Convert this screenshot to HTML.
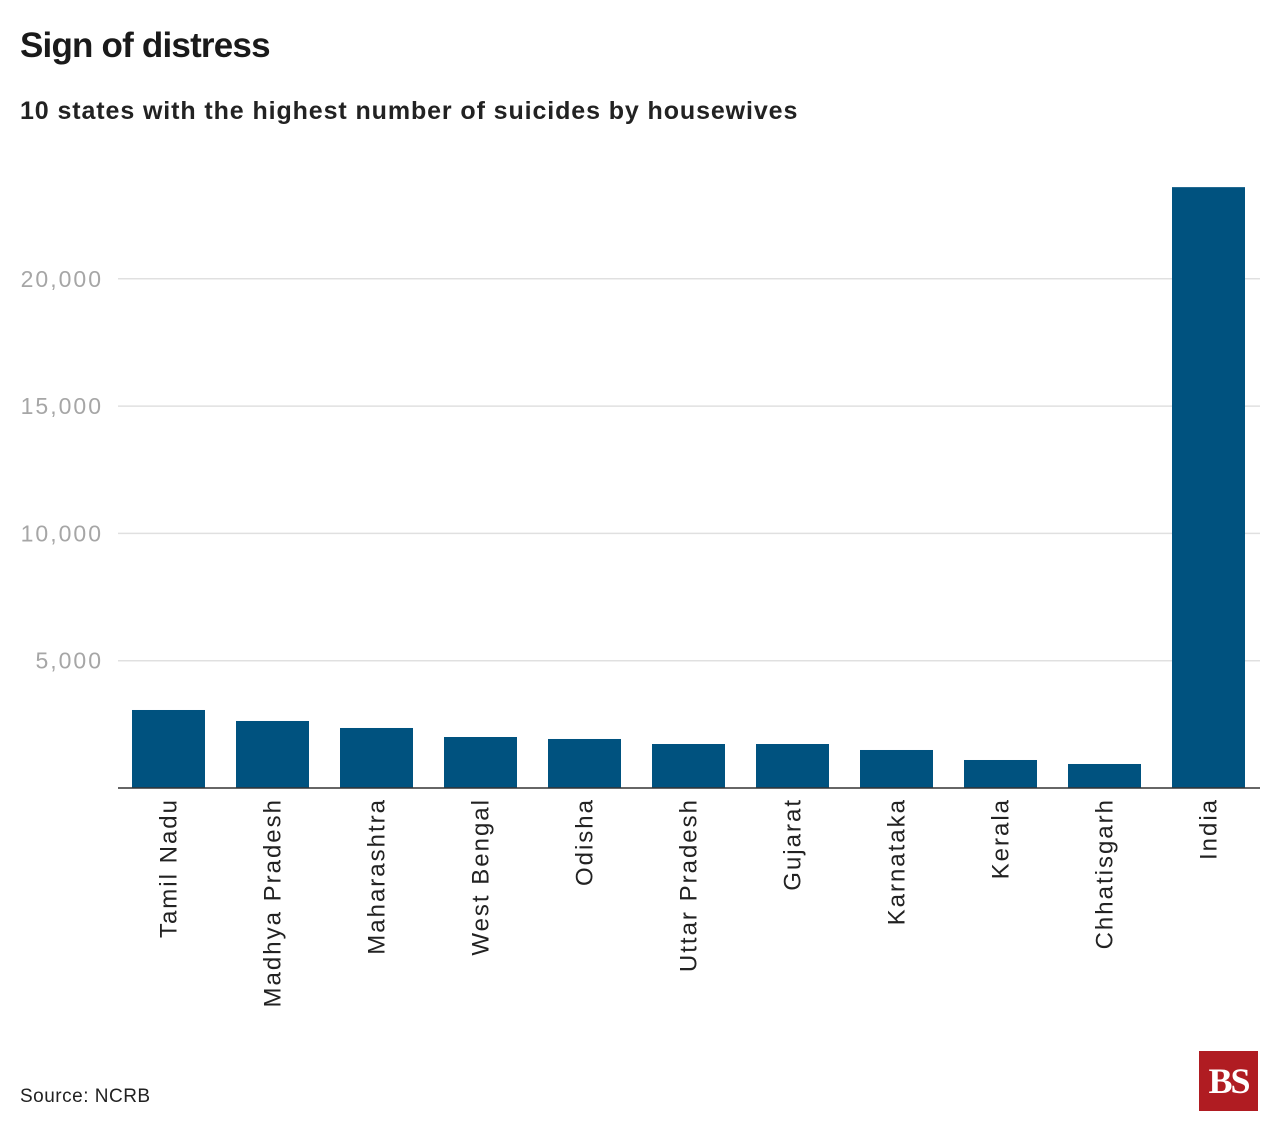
<!DOCTYPE html>
<html><head><meta charset="utf-8">
<style>
html,body{margin:0;padding:0;background:#fff;width:1280px;height:1134px;overflow:hidden}
body{font-family:"Liberation Sans",sans-serif;color:#1a1a1a;position:relative}
#title{position:absolute;left:20px;top:26px;font-size:35px;font-weight:bold;margin:0;letter-spacing:-0.8px}
#subtitle{position:absolute;left:20px;top:97px;font-size:25px;font-weight:bold;color:#222;letter-spacing:0.9px}
#source{position:absolute;left:20px;top:1086px;font-size:19px;color:#222;letter-spacing:0.5px}
#logo{position:absolute;left:1199px;top:1051px;width:59px;height:60px;background:#b01c22;color:#fff;font-family:"Liberation Serif",serif;font-weight:bold;font-size:36px;text-align:center;line-height:60px;letter-spacing:-2px}
svg{position:absolute;left:0;top:0}
</style></head><body>
<h1 id="title">Sign of distress</h1>
<div id="subtitle">10 states with the highest number of suicides by housewives</div>
<svg id="chart" width="1280" height="1134"></svg>
<div id="source">Source: NCRB</div>
<div id="logo">BS</div>
<script>
const categories=["Tamil Nadu","Madhya Pradesh","Maharashtra","West Bengal","Odisha","Uttar Pradesh","Gujarat","Karnataka","Kerala","Chhatisgarh","India"];
const values=[3064,2632,2357,2003,1925,1728,1728,1493,1100,943,23600];
const ticks=[5000,10000,15000,20000];
const tickLabels=["5,000","10,000","15,000","20,000"];
const NS="http://www.w3.org/2000/svg";
const svg=document.getElementById('chart');
const y0=788, pxPer=127.3/5000;
const y=v=>y0-v*pxPer;
const x=i=>132+i*104;
const bw=73;
function mk(t,a){const e=document.createElementNS(NS,t);for(const k in a)e.setAttribute(k,a[k]);svg.appendChild(e);return e;}
ticks.forEach((t,i)=>{
  const g=mk('line',{x1:118,x2:1260,y1:y(t),y2:y(t),stroke:'#e0e0e0','stroke-width':1.5});
  
  
  const l=mk('text',{x:103,y:y(t)+8,'text-anchor':'end','font-size':23,'letter-spacing':2,fill:'#a6a6a6','font-family':'"Liberation Sans",sans-serif'});
  l.textContent=tickLabels[i];
  
  
});
values.forEach((v,i)=>{
  const r=mk('rect',{x:x(i),y:y(v),width:bw,height:y0-y(v),fill:'#00527f'});
  
  
  const cx=x(i)+bw/2+8;
  const t=mk('text',{x:cx,y:798,transform:`rotate(-90 ${cx} 798)`,'text-anchor':'end','font-size':24,'letter-spacing':2,fill:'#222','font-family':'"Liberation Sans",sans-serif'});
  t.textContent=categories[i];
  
  
});
const ax=mk('line',{x1:118,x2:1260,y1:y0,y2:y0,stroke:'#333','stroke-width':1.5});


</script>
</body></html>
